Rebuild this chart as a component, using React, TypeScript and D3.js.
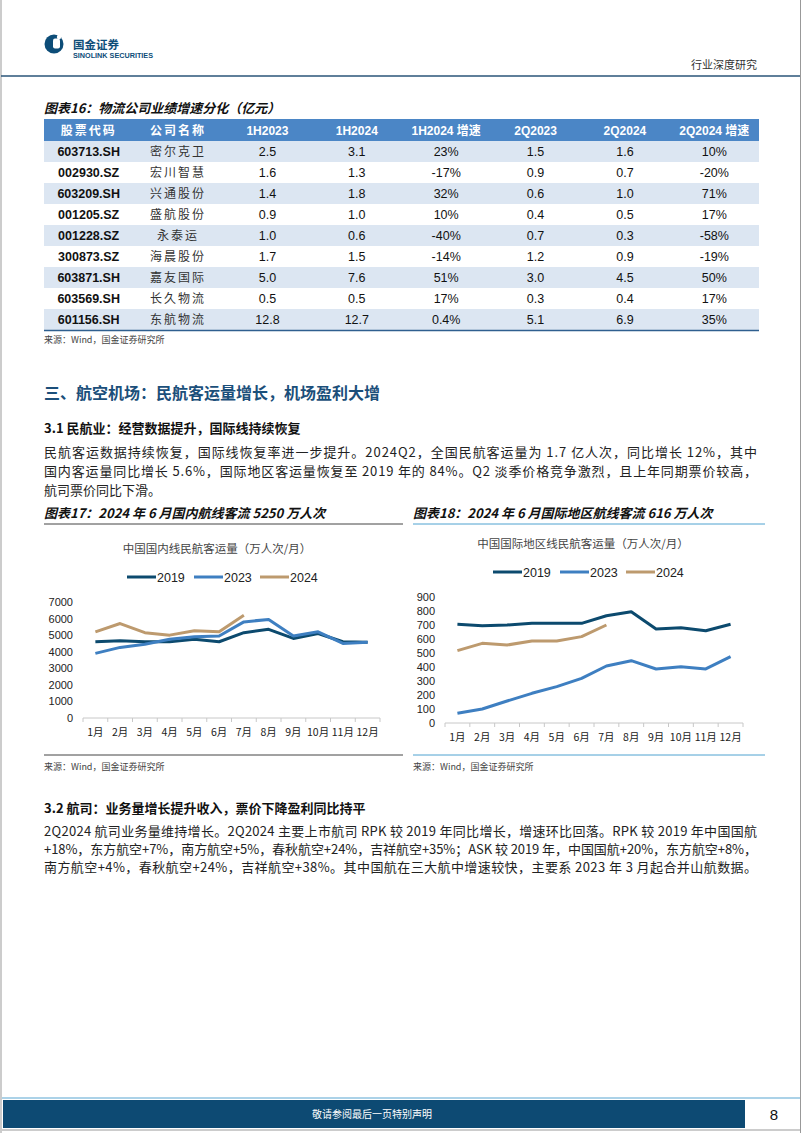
import React from "react";
import * as d3 from "d3";

// ---- table data (图表16) ----
const tableHeads = ["股票代码", "公司名称", "1H2023", "1H2024", "1H2024 增速", "2Q2023", "2Q2024", "2Q2024 增速"];
const codes = ["603713.SH", "002930.SZ", "603209.SH", "001205.SZ", "001228.SZ", "300873.SZ", "603871.SH", "603569.SH", "601156.SH"];
const names = ["密尔克卫", "宏川智慧", "兴通股份", "盛航股份", "永泰运", "海晨股份", "嘉友国际", "长久物流", "东航物流"];
const h1y2023 = ["2.5", "1.6", "1.4", "0.9", "1.0", "1.7", "5.0", "0.5", "12.8"];
const h1y2024 = ["3.1", "1.3", "1.8", "1.0", "0.6", "1.5", "7.6", "0.5", "12.7"];
const h1Growth = ["23%", "-17%", "32%", "10%", "-40%", "-14%", "51%", "17%", "0.4%"];
const q2y2023 = ["1.5", "0.9", "0.6", "0.4", "0.7", "1.2", "3.0", "0.3", "5.1"];
const q2y2024 = ["1.6", "0.7", "1.0", "0.5", "0.3", "0.9", "4.5", "0.4", "6.9"];
const q2Growth = ["10%", "-20%", "71%", "17%", "-58%", "-19%", "50%", "17%", "35%"];

// ---- chart data (图表17/18) ----
const months = ["1月", "2月", "3月", "4月", "5月", "6月", "7月", "8月", "9月", "10月", "11月", "12月"];
const years = ["2019", "2023", "2024"];
const colors = ["#0c4a6e", "#3e7fc1", "#bd9a6e"];

const dom2019 = [4600, 4660, 4600, 4600, 4750, 4600, 5150, 5350, 4800, 5100, 4600, 4570];
const dom2023 = [3900, 4260, 4450, 4750, 4900, 4950, 5800, 5950, 4950, 5200, 4500, 4570];
const dom2024 = [5200, 5700, 5150, 5000, 5270, 5200, 6200];
const domTicks = [0, 1000, 2000, 3000, 4000, 5000, 6000, 7000];

const intl2019 = [705, 695, 700, 712, 712, 712, 766, 795, 671, 681, 659, 705];
const intl2023 = [69, 100, 157, 212, 260, 319, 407, 445, 386, 402, 386, 474];
const intl2024 = [517, 569, 557, 586, 586, 617, 700];
const intlTicks = [0, 100, 200, 300, 400, 500, 600, 700, 800, 900];

const CJK = "'Noto Sans CJK SC', 'Noto Sans', sans-serif";
const LAT = "'Liberation Sans', Arial, 'Noto Sans CJK SC', sans-serif";

function LineChart(props: {
  x0: number; x1: number; yTop: number; yBottom: number; max: number; ticks: number[];
  series: number[][]; title: string; titleX: number; titleY: number; legendY: number; legendX: number[];
}) {
  const { x0, x1, yTop, yBottom, max, ticks, series, title, titleX, titleY, legendY, legendX } = props;
  const x = d3.scaleBand().domain(months).range([x0, x1]);
  const y = d3.scaleLinear().domain([0, max]).range([yBottom, yTop]);
  const line = d3.line<number>()
    .x((_, i) => (x(months[i]) as number) + x.bandwidth() / 2)
    .y((d) => y(d));
  return (
    <g>
      <text x={titleX} y={titleY} textAnchor="middle" fontFamily={CJK} fontSize={11.5} fill="#444">{title}</text>
      {years.map((yr, i) => (
        <g key={yr}>
          <line x1={legendX[i]} x2={legendX[i] + 29} y1={legendY} y2={legendY} stroke={colors[i]} strokeWidth={3} />
          <text x={legendX[i] + 30} y={legendY + 4.5} fontFamily={LAT} fontSize={12.5} fill="#222">{yr}</text>
        </g>
      ))}
      {ticks.map((t) => (
        <text key={t} x={x0 - 10} y={y(t) + 4} textAnchor="end" fontFamily={LAT} fontSize={11} fill="#222">{t}</text>
      ))}
      <line x1={x0} x2={x1} y1={yBottom} y2={yBottom} stroke="#c8c8c8" strokeWidth={1} />
      {d3.range(months.length + 1).map((i) => {
        const xx = x0 + i * x.bandwidth();
        return <line key={i} x1={xx} x2={xx} y1={yBottom} y2={yBottom + 4} stroke="#c8c8c8" strokeWidth={1} />;
      })}
      {months.map((m) => (
        <text key={m} x={(x(m) as number) + x.bandwidth() / 2} y={yBottom + 18} textAnchor="middle" fontFamily={CJK} fontSize={10.5} fill="#222">{m}</text>
      ))}
      {series.map((s, i) => (
        <path key={i} d={line(s) || ""} fill="none" stroke={colors[i]} strokeWidth={3} strokeLinejoin="round" />
      ))}
    </g>
  );
}

function Table() {
  const cols = d3.scaleBand<number>().domain(d3.range(8)).range([44, 759]);
  const rows = d3.scaleBand<number>().domain(d3.range(9)).range([141, 330]);
  const cells = [codes, names, h1y2023, h1y2024, h1Growth, q2y2023, q2y2024, q2Growth];
  const cx = (c: number) => (cols(c) as number) + cols.bandwidth() / 2;
  return (
    <g>
      <text x={44} y={113} fontFamily={CJK} fontSize={13} fontWeight="bold" fontStyle="italic" fill="#111">图表16：物流公司业绩增速分化（亿元）</text>
      <rect x={44} y={119} width={715} height={22} fill="#4b86c6" />
      {tableHeads.map((h, c) => (
        <text key={h} x={cx(c)} y={134.5} textAnchor="middle" fontFamily={c < 2 ? CJK : LAT} fontSize={12} fontWeight="bold" fill="#fff" letterSpacing={c < 2 ? 2 : 0}>{h}</text>
      ))}
      {codes.map((_, r) => (
        <g key={r}>
          {r % 2 === 0 && <rect x={44} y={rows(r)} width={715} height={rows.bandwidth()} fill="#dce6f2" />}
          {cells.map((col, c) => (
            <text key={c} x={cx(c)} y={(rows(r) as number) + 15} textAnchor="middle"
              fontFamily={c === 1 ? CJK : LAT} fontSize={c === 1 ? 12 : 12.5}
              fontWeight={c === 0 ? "bold" : "normal"} letterSpacing={c === 1 ? 2 : 0}
              fill={c === 1 ? "#333" : "#111"}>{col[r]}</text>
          ))}
        </g>
      ))}
      <line x1={44} x2={759} y1={330.5} y2={330.5} stroke="#2f5f8f" strokeWidth={1.5} />
      <text x={44} y={343} fontFamily={CJK} fontSize={9} fill="#444">来源：Wind，国金证券研究所</text>
    </g>
  );
}

function Para(props: { lines: string[]; y0: number; dy: number; justifyCount: number }) {
  return (
    <g>
      {props.lines.map((l, i) => (
        <text key={i} x={44} y={props.y0 + i * props.dy} fontFamily={CJK} fontSize={13} fill="#222"
          {...(i < props.justifyCount ? { textLength: 713, lengthAdjust: "spacing" } : {})}>{l}</text>
      ))}
    </g>
  );
}

export default function App() {
  return (
    <div style={{ position: "absolute", left: 0, top: 0 }}>
      <svg width={802} height={1133} style={{ display: "block", background: "#fff" }}>
        <rect width={802} height={1133} fill="#fff" />
        <line x1={1} x2={1} y1={0} y2={1133} stroke="#999" />
        <line x1={800.5} x2={800.5} y1={0} y2={1133} stroke="#999" />

        {/* header */}
        <circle cx={54} cy={44} r={9.5} fill="#0d4d78" />
        <rect x={53} y={38.5} width={7} height={10} rx={2} fill="#fff" />
        <circle cx={59} cy={37} r={2.2} fill="#fff" />
        <text x={73} y={49} fontFamily={CJK} fontSize={11.5} fontWeight="bold" fill="#0d4d78">国金证券</text>
        <text x={73} y={58} fontFamily={LAT} fontSize={7.2} fontWeight="bold" fill="#0d4d78" textLength={80} lengthAdjust="spacingAndGlyphs">SINOLINK SECURITIES</text>
        <text x={757} y={69} textAnchor="end" fontFamily={CJK} fontSize={11} fill="#333">行业深度研究</text>
        <line x1={1} x2={800} y1={76} y2={76} stroke="#2a5478" strokeWidth={1.5} />

        <Table />

        <text x={44} y={399} fontFamily={CJK} fontSize={16} fontWeight="bold" fill="#1b4f7a">三、航空机场：民航客运量增长，机场盈利大增</text>
        <text x={44} y={433} fontFamily={CJK} fontSize={13} fontWeight="bold" fill="#111">3.1 民航业：经营数据提升，国际线持续恢复</text>
        <Para y0={457} dy={19} justifyCount={2} lines={[
          "民航客运数据持续恢复，国际线恢复率进一步提升。2024Q2，全国民航客运量为 1.7 亿人次，同比增长 12%，其中",
          "国内客运量同比增长 5.6%，国际地区客运量恢复至 2019 年的 84%。Q2 淡季价格竞争激烈，且上年同期票价较高，",
          "航司票价同比下滑。",
        ]} />

        {/* chart titles */}
        <text x={44} y={518} fontFamily={CJK} fontSize={13} fontWeight="bold" fontStyle="italic" fill="#111">图表17：2024 年 6 月国内航线客流 5250 万人次</text>
        <text x={413} y={518} fontFamily={CJK} fontSize={13} fontWeight="bold" fontStyle="italic" fill="#111">图表18：2024 年 6 月国际地区航线客流 616 万人次</text>
        <line x1={44} x2={403} y1={524} y2={524} stroke="#444" strokeWidth={1} />
        <line x1={413} x2={765} y1={524} y2={524} stroke="#4ea2d0" strokeWidth={1} />

        <LineChart x0={83} x1={380} yTop={602} yBottom={718} max={7000} ticks={domTicks}
          series={[dom2019, dom2023, dom2024]} title="中国国内线民航客运量（万人次/月）"
          titleX={217} titleY={553} legendY={577} legendX={[127, 194, 260]} />
        <LineChart x0={445} x1={743} yTop={597} yBottom={723} max={900} ticks={intlTicks}
          series={[intl2019, intl2023, intl2024]} title="中国国际地区线民航客运量（万人次/月）"
          titleX={583} titleY={548} legendY={572} legendX={[493, 560, 626]} />

        <line x1={44} x2={403} y1={755} y2={755} stroke="#444" strokeWidth={1} />
        <line x1={413} x2={765} y1={755} y2={755} stroke="#4ea2d0" strokeWidth={1} />
        <text x={44} y={770} fontFamily={CJK} fontSize={9} fill="#444">来源：Wind，国金证券研究所</text>
        <text x={413} y={770} fontFamily={CJK} fontSize={9} fill="#444">来源：Wind，国金证券研究所</text>

        <text x={44} y={813} fontFamily={CJK} fontSize={13} fontWeight="bold" fill="#111">3.2 航司：业务量增长提升收入，票价下降盈利同比持平</text>
        <Para y0={836} dy={18} justifyCount={3} lines={[
          "2Q2024 航司业务量维持增长。2Q2024 主要上市航司 RPK 较 2019 年同比增长，增速环比回落。RPK 较 2019 年中国国航",
          "+18%，东方航空+7%，南方航空+5%，春秋航空+24%，吉祥航空+35%；ASK 较 2019 年，中国国航+20%，东方航空+8%，",
          "南方航空+4%，春秋航空+24%，吉祥航空+38%。其中国航在三大航中增速较快，主要系 2023 年 3 月起合并山航数据。",
        ]} />

        {/* footer */}
        <line x1={2} x2={800} y1={1098} y2={1098} stroke="#8fc3e0" strokeWidth={1.5} />
        <rect x={3} y={1100} width={742} height={28} fill="#0d4a73" />
        <text x={372} y={1118} textAnchor="middle" fontFamily={CJK} fontSize={10} fill="#fff">敬请参阅最后一页特别声明</text>
        <text x={774} y={1120} textAnchor="middle" fontFamily={LAT} fontSize={15} fill="#111">8</text>
        <line x1={2} x2={800} y1={1130} y2={1130} stroke="#999" strokeWidth={1} />
      </svg>
    </div>
  );
}
